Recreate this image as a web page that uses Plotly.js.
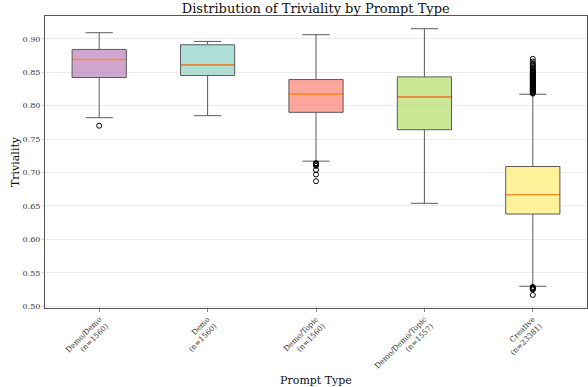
<!DOCTYPE html>
<html><head><meta charset="utf-8">
<script src="https://cdn.plot.ly/plotly-3.0.1.min.js"></script>
<style>html,body{margin:0;padding:0;background:#fff}#chart{width:588px;height:387px}</style>
</head><body><div id="chart"></div>
<script>
const categories = ["Demo/Demo<br>(n=1560)", "Demo<br>(n=1560)", "Demo/Topic<br>(n=1560)", "Demo/Demo/Topic<br>(n=1557)", "Creative<br>(n=23381)"];
const q1 = [0.842, 0.845, 0.790, 0.764, 0.638];
const medians = [0.869, 0.861, 0.817, 0.813, 0.667];
const q3 = [0.884, 0.891, 0.839, 0.843, 0.709];
const lowerWhisker = [0.782, 0.785, 0.717, 0.654, 0.530];
const upperWhisker = [0.909, 0.896, 0.906, 0.915, 0.817];
const outliers = [
  [0.770],
  [],
  [0.714, 0.713, 0.712, 0.710, 0.704, 0.697, 0.687],
  [],
  [0.818, 0.819, 0.820, 0.821, 0.822, 0.823, 0.824, 0.825, 0.826, 0.827, 0.828, 0.829, 0.830, 0.831, 0.832, 0.833, 0.834, 0.835, 0.836, 0.837, 0.838, 0.839, 0.840, 0.841, 0.842, 0.843, 0.844, 0.845, 0.846, 0.847, 0.848, 0.849, 0.850, 0.851, 0.852, 0.853, 0.855, 0.857, 0.859, 0.861, 0.863, 0.866, 0.870,
   0.529, 0.528, 0.527, 0.526, 0.525, 0.517]
];
const fills = ["rgba(188,128,189,0.7)", "rgba(141,211,199,0.7)", "rgba(251,128,114,0.7)", "rgba(179,222,105,0.7)", "rgba(255,237,111,0.7)"];

const serif = "DejaVu Serif";
const traces = [];
categories.forEach((c, i) => {
  traces.push({
    type: "box", x: [c], q1: [q1[i]], median: [medians[i]], q3: [q3[i]],
    lowerfence: [lowerWhisker[i]], upperfence: [upperWhisker[i]],
    boxpoints: false, fillcolor: fills[i], width: 0.5, whiskerwidth: 0.5,
    line: {color: "#5a5a5a", width: 1}, showlegend: false, hoverinfo: "skip"
  });
});
categories.forEach((c, i) => {
  if (outliers[i].length) traces.push({
    type: "scatter", mode: "markers", x: outliers[i].map(() => c), y: outliers[i],
    marker: {symbol: "circle-open", size: 5, color: "#000", line: {width: 1, color: "#000"}},
    showlegend: false, hoverinfo: "skip"
  });
});
const shapes = medians.map((m, i) => ({
  type: "line", layer: "above", xref: "x", yref: "y", x0: i - 0.245, x1: i + 0.245, y0: m, y1: m,
  line: {color: "#ff8c2a", width: 1.3}
}));

const layout = {
  width: 588, height: 387,
  margin: {l: 45, r: 1, t: 16, b: 79},
  paper_bgcolor: "#fff", plot_bgcolor: "#fff",
  font: {family: serif, color: "#333", size: 8},
  title: {text: "Distribution of Triviality by Prompt Type", font: {family: serif, size: 13, color: "#111"}, x: 0.537, xanchor: "center", yref: "container", y: 0.978, yanchor: "middle"},
  xaxis: {
    type: "category", categoryorder: "array", categoryarray: categories, range: [-0.5, 4.5],
    tickangle: -45, tickfont: {family: serif, size: 7.5, color: "#333"},
    ticks: "outside", ticklen: 3, tickcolor: "#888",
    showline: true, linecolor: "#555", linewidth: 1, mirror: true, showgrid: false,
    title: {text: "Prompt Type", font: {family: serif, size: 11, color: "#111"}, standoff: 6}
  },
  yaxis: {
    range: [0.4975, 0.934], tickvals: [0.5, 0.55, 0.6, 0.65, 0.7, 0.75, 0.8, 0.85, 0.9],
    tickformat: ".2f", tickfont: {family: serif, size: 8, color: "#333"},
    ticks: "outside", ticklen: 2, tickcolor: "#ccc",
    showline: true, linecolor: "#555", linewidth: 1, mirror: true,
    showgrid: true, gridcolor: "#ececec", gridwidth: 1, zeroline: false,
    title: {text: "Triviality", font: {family: serif, size: 11, color: "#111"}, standoff: 0}
  },
  shapes: shapes
};
Plotly.newPlot("chart", traces, layout, {displayModeBar: false, staticPlot: true});
</script></body></html>
